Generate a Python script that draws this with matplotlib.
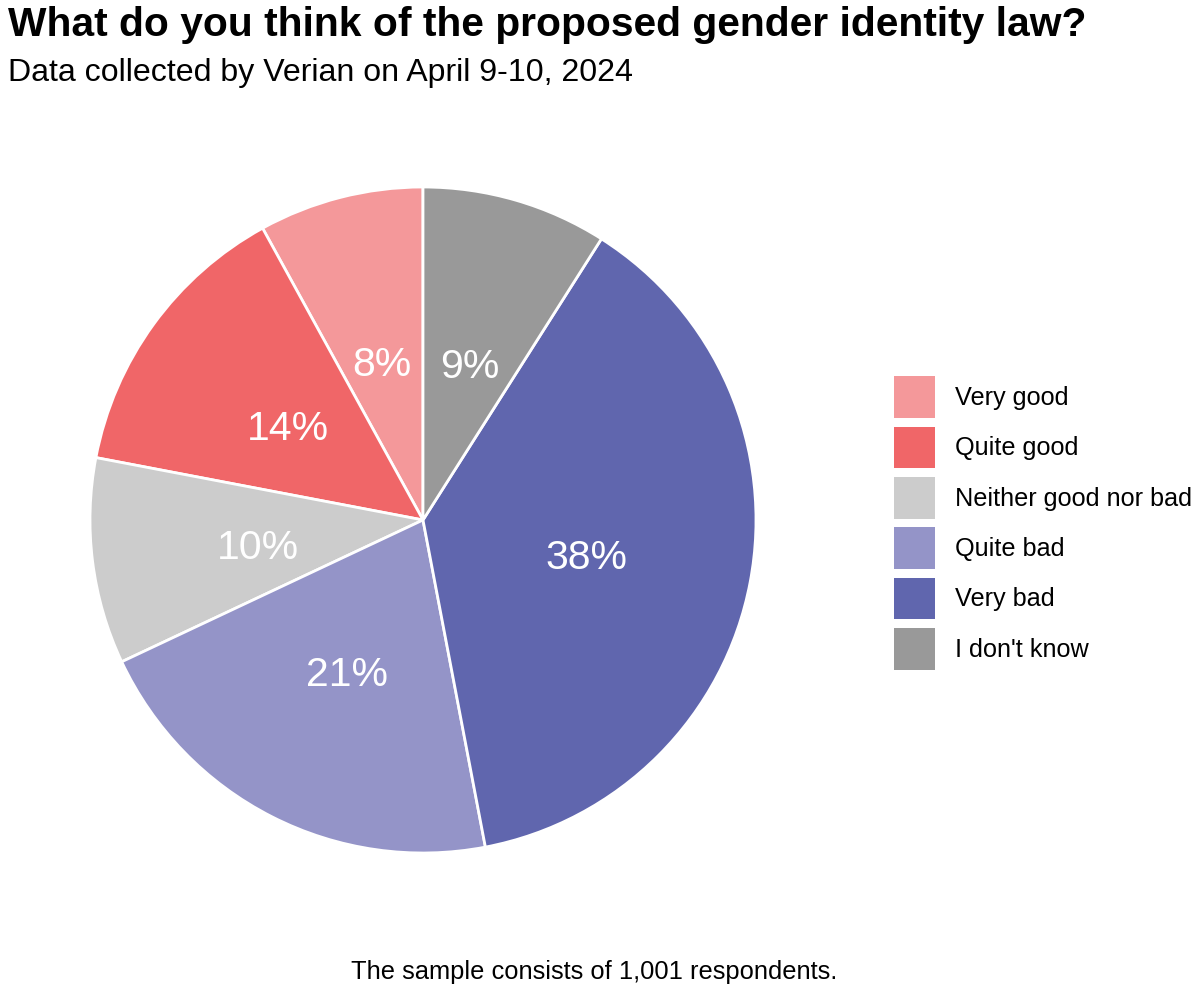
import matplotlib.pyplot as plt
from matplotlib.patches import Patch
import numpy as np

categories = ["Very good", "Quite good", "Neither good nor bad", "Quite bad", "Very bad", "I don't know"]
shares = [8, 14, 10, 21, 38, 9]
colors = ["#F4989A", "#F06668", "#CCCCCC", "#9494C8", "#6066AE", "#999999"]

plt.rcParams['font.family'] = ['Liberation Sans', 'DejaVu Sans']

fig = plt.figure(figsize=(12, 9.93), dpi=100)
# pie axes: centre ~ (423, 520) px, radius ~333 px
ax = fig.add_axes([(423 - 335) / 1200, 1 - (520 + 335) / 993, 670 / 1200, 670 / 993])
wedges, texts = ax.pie(shares, colors=colors, startangle=90, counterclock=True,
                       radius=333 / 335,
                       wedgeprops=dict(edgecolor="white", linewidth=2))
ax.set_xlim(-1, 1)
ax.set_ylim(-1, 1)
ax.set_aspect("equal")

cum = np.cumsum([0] + shares)
for i, s in enumerate(shares):
    mid = np.deg2rad(90 + (cum[i] + s / 2) * 3.6)
    r = 0.5 * 333 / 335
    ax.text(r * np.cos(mid), r * np.sin(mid) - 0.02, f"{s}%", color="white",
            fontsize=29.5, ha="center", va="center")

handles = [Patch(facecolor=c, edgecolor="none") for c in colors]
fig.legend(handles, categories, loc="center left", bbox_to_anchor=(871 / 1200, 1 - 523 / 993),
           frameon=False, fontsize=18.2, handlelength=1.64, handleheight=2.15,
           labelspacing=0.35, handletextpad=0.78)

fig.text(8 / 1200, 1 - 25 / 993, "What do you think of the proposed gender identity law?",
         fontsize=29.3, fontweight="bold", ha="left", va="center")
fig.text(8 / 1200, 1 - 73 / 993, "Data collected by Verian on April 9-10, 2024",
         fontsize=23.1, ha="left", va="center")
fig.text(594 / 1200, 1 - 972 / 993, "The sample consists of 1,001 respondents.",
         fontsize=18.4, ha="center", va="center")

fig.savefig("out.png", dpi=100, facecolor="white")
